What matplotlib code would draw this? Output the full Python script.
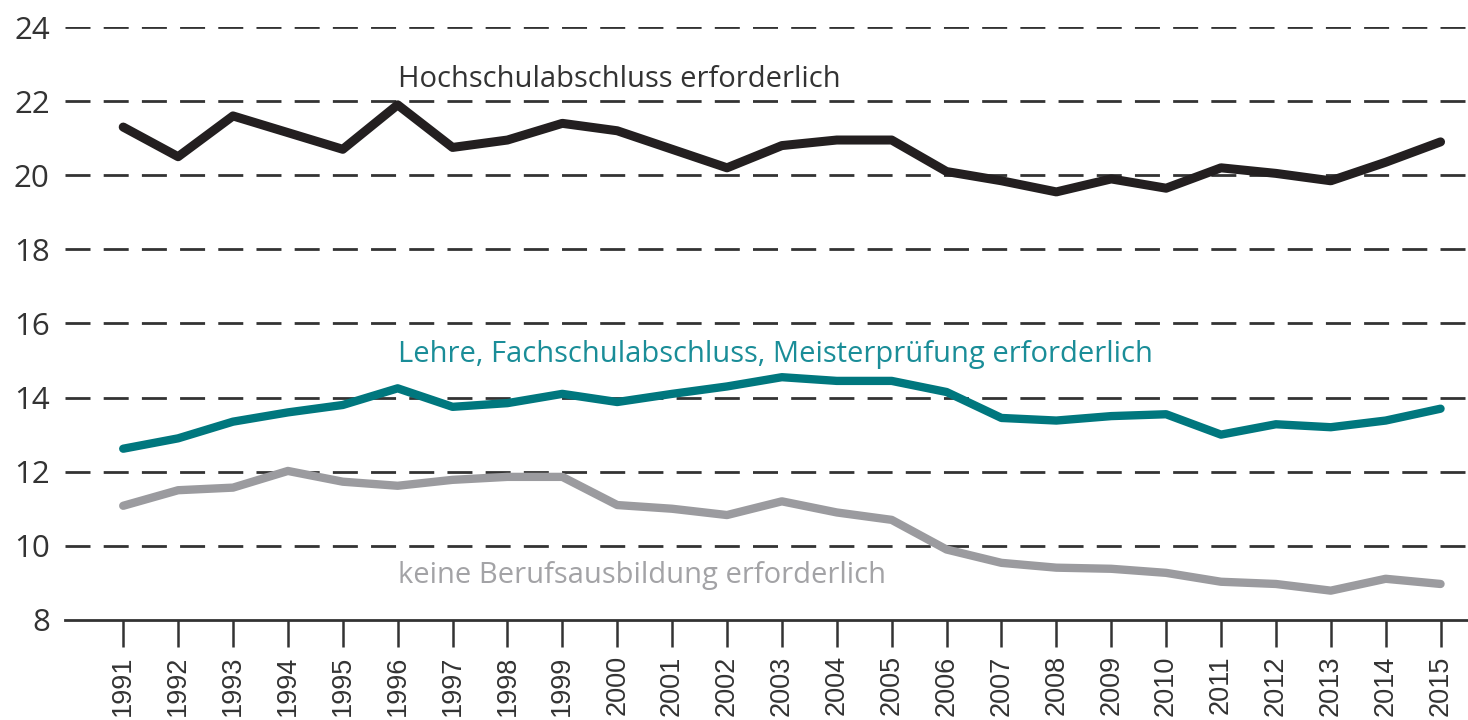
import numpy as np
import matplotlib
matplotlib.use("Agg")
import matplotlib.pyplot as plt

plt.rcParams['lines.scale_dashes'] = False

# data
years = list(range(1991, 2016))
hochschule = [21.3, 20.5, 21.6, 21.15, 20.7, 21.9, 20.75, 20.95, 21.4, 21.2,
              20.7, 20.2, 20.8, 20.95, 20.95, 20.1, 19.85, 19.55, 19.9, 19.65,
              20.2, 20.05, 19.85, 20.35, 20.9]
lehre = [12.62, 12.9, 13.35, 13.6, 13.8, 14.25, 13.75, 13.85, 14.1, 13.88,
         14.1, 14.3, 14.55, 14.45, 14.45, 14.15, 13.45, 13.38, 13.5, 13.55,
         13.0, 13.28, 13.2, 13.38, 13.7]
keine = [11.08, 11.5, 11.57, 12.02, 11.73, 11.62, 11.78, 11.86, 11.86, 11.1,
         11.0, 10.83, 11.2, 10.9, 10.7, 9.9, 9.54, 9.41, 9.38, 9.27,
         9.03, 8.97, 8.79, 9.11, 8.97]
yticks = [8, 10, 12, 14, 16, 18, 20, 22, 24]

labels = ["Hochschulabschluss erforderlich",
          "Lehre, Fachschulabschluss, Meisterprüfung erforderlich",
          "keine Berufsausbildung erforderlich"]
label_y = [22.58, 15.17, 9.2]

black = "#231f20"
teal = "#00777e"
grey = "#9b9b9f"

fig = plt.figure(figsize=(14.68, 7.2), dpi=100)
ax = fig.add_axes([0.0443, 0.139, 0.9557, 0.8235])

for yv in yticks[1:]:
    ax.axhline(yv, color="#333333", lw=2.0, ls=(0, (18, 9.5)), zorder=1)

ax.plot(years, hochschule, color=black, lw=6.5, zorder=3, solid_capstyle="round")
ax.plot(years, lehre, color=teal, lw=6.0, zorder=3, solid_capstyle="round")
ax.plot(years, keine, color=grey, lw=6.0, zorder=3, solid_capstyle="round")

for txt, yv, c in zip(labels, label_y, ["#333333", "#1a8d98", "#a3a3a6"]):
    ax.text(1996, yv, txt, color=c, fontsize=21, family="Open Sans",
            ha="left", va="center")

ax.set_xlim(1989.94, 2015.5)
ax.set_ylim(8, 24)
ax.set_yticks(yticks)
ax.set_yticklabels([str(v) for v in yticks], family="Open Sans", fontsize=22.5,
                   color="#333333")
ax.tick_params(axis="y", length=0, pad=11)
ax.set_xticks(years)
ax.set_xticklabels([str(y) for y in years], rotation=90, family="Liberation Sans",
                   fontsize=19.5, color="#333333", va="top")
ax.tick_params(axis="x", length=19.5, width=1.8, color="#333333", pad=6)

for s in ["top", "right", "left"]:
    ax.spines[s].set_visible(False)
ax.spines["bottom"].set_linewidth(2.0)
ax.spines["bottom"].set_color("#333333")

fig.savefig("out.png", dpi=100)
